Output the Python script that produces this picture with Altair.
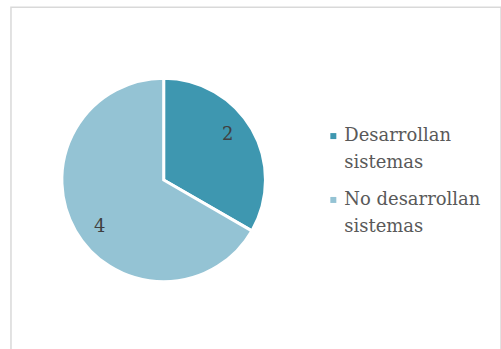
import altair as alt
import pandas as pd

categories = ["Desarrollan sistemas", "No desarrollan sistemas"]
values = [2, 4]
colors = ["#3E97B0", "#94C3D4"]

df = pd.DataFrame({"cat": categories, "val": values, "ord": [0, 1]})

CX, CY = 153, 173

base = alt.Chart(df).encode(
    theta=alt.Theta("val:Q", stack=True),
    order=alt.Order("ord:Q"),
)

arc = base.mark_arc(radius=102, stroke="white", strokeWidth=3).encode(
    x=alt.value(CX),
    y=alt.value(CY),
    color=alt.Color(
        "cat:N",
        scale=alt.Scale(domain=categories, range=colors),
        legend=alt.Legend(
            title=None,
            orient="none",
            legendX=314,
            legendY=120,
            symbolType="square",
            symbolSize=36,
            symbolStrokeWidth=0,
            labelFont="DejaVu Serif",
            labelFontSize=18,
            labelColor="#595959",
            labelExpr="datum.label == 'Desarrollan sistemas' ? ['Desarrollan', 'sistemas'] : ['No desarrollan', 'sistemas']",
            labelBaseline="middle",
            labelOffset=2,
            rowPadding=19,
            labelLimit=300,
        ),
    ),
)

text = base.mark_text(
    radius=79, thetaOffset=-0.1, font="DejaVu Serif", fontSize=18, color="#404040"
).encode(
    x=alt.value(CX),
    y=alt.value(CY + 1),
    text="val:Q",
)

chart = (
    alt.layer(arc, text)
    .properties(
        width=491,
        height=343,
        padding={"left": 11, "top": 7, "right": 0, "bottom": 0},
        autosize=alt.AutoSizeParams(type="none"),
    )
    .configure(style={"guide-label": {"lineHeight": 27}})
    .configure_view(stroke="#D9D9D9", strokeWidth=1.5)
)

chart.save("out.html", embed_options={"renderer": "svg", "actions": False})
